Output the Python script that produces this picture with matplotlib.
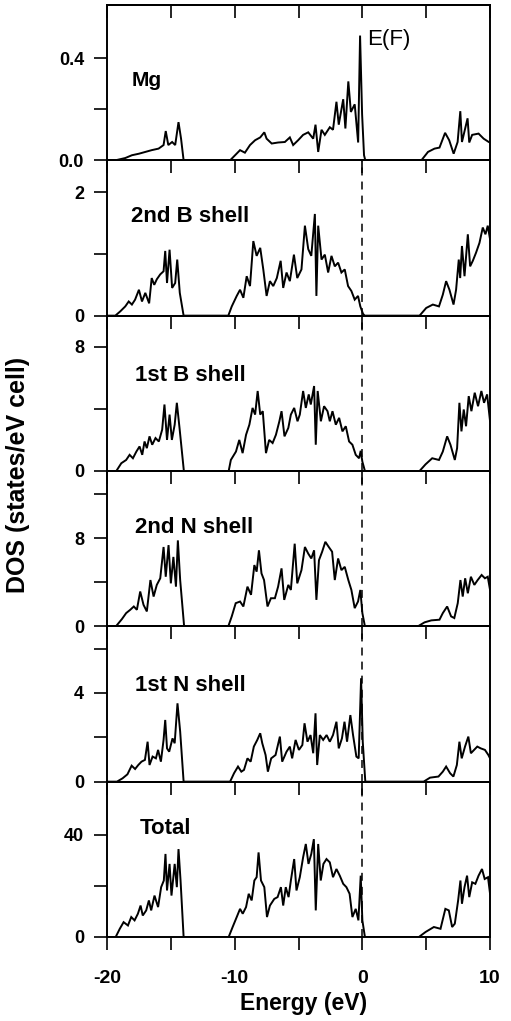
import matplotlib
matplotlib.use("Agg")
import matplotlib.pyplot as plt
from matplotlib.ticker import FormatStrFormatter

plt.rcParams['font.family'] = ['Liberation Sans', 'DejaVu Sans']
plt.rcParams['axes.unicode_minus'] = False

# (energy eV, DOS), one list per panel
mg = [(-20, 0), (-19.35, 0), (-18.57, 0.009), (-18.05, 0.02), (-17.5, 0.026), (-17.0, 0.033), (-16.5, 0.04),
      (-15.96, 0.046), (-15.57, 0.06), (-15.4, 0.115), (-15.2, 0.06), (-14.9, 0.072), (-14.66, 0.06), (-14.4, 0.15),
      (-14.2, 0.085), (-14.0, 0),
      (-10.36, 0), (-9.97, 0.02), (-9.58, 0.04), (-9.2, 0.03), (-8.8, 0.06), (-8.4, 0.079), (-8.0, 0.09), (-7.68, 0.11),
      (-7.5, 0.085), (-7.1, 0.066), (-6.6, 0.07), (-6.07, 0.072), (-5.68, 0.09), (-5.42, 0.06), (-5.03, 0.079),
      (-4.64, 0.1), (-4.24, 0.11), (-3.85, 0.085), (-3.67, 0.14), (-3.46, 0.033), (-3.2, 0.12), (-2.94, 0.1),
      (-2.55, 0.13), (-2.3, 0.12), (-2.03, 0.23), (-1.85, 0.14), (-1.5, 0.24), (-1.33, 0.125), (-1.1, 0.31),
      (-0.9, 0.19), (-0.6, 0.22), (-0.33, 0.07), (-0.18, 0.49), (-0.02, 0.18), (0.13, 0.02), (0.23, 0),
      (4.62, 0), (5.14, 0.033), (5.65, 0.046), (6.04, 0.05), (6.48, 0.108), (6.8, 0.079), (7.15, 0.026), (7.46, 0.072),
      (7.67, 0.193), (7.8, 0.072), (7.98, 0.11), (8.24, 0.165), (8.37, 0.07), (8.6, 0.1), (9.1, 0.105), (9.5, 0.085),
      (9.9, 0.072), (10.0, 0.07)]

b2 = [(-20, 0), (-19.35, 0), (-18.96, 0.07), (-18.57, 0.15), (-18.3, 0.23), (-18.05, 0.18), (-17.8, 0.26),
      (-17.5, 0.42), (-17.26, 0.23), (-17.0, 0.37), (-16.7, 0.2), (-16.5, 0.61), (-16.3, 0.5), (-16.1, 0.59),
      (-15.83, 0.67), (-15.57, 0.72), (-15.44, 1.05), (-15.3, 0.53), (-15.1, 1.07), (-14.9, 0.45), (-14.66, 0.53),
      (-14.5, 0.91), (-14.3, 0.37), (-14.0, 0),
      (-10.5, 0), (-10.23, 0.15), (-9.84, 0.32), (-9.58, 0.42), (-9.32, 0.29), (-9.06, 0.64), (-8.8, 0.48),
      (-8.54, 1.21), (-8.28, 0.97), (-8.0, 1.1), (-7.76, 0.75), (-7.5, 0.32), (-7.24, 0.56), (-6.98, 0.48),
      (-6.7, 0.61), (-6.4, 0.89), (-6.2, 0.45), (-5.94, 0.7), (-5.68, 0.56), (-5.36, 0.99), (-5.1, 0.61),
      (-4.77, 0.75), (-4.5, 1.46), (-4.24, 1.08), (-4.0, 0.97), (-3.72, 1.65), (-3.6, 0.32), (-3.46, 1.46),
      (-3.2, 0.91), (-2.94, 0.99), (-2.68, 0.7), (-2.42, 0.97), (-2.16, 0.8), (-1.9, 0.86), (-1.64, 0.7),
      (-1.38, 0.75), (-1.12, 0.48), (-0.86, 0.4), (-0.6, 0.26), (-0.34, 0.32), (-0.16, 0.15), (0.05, 0.03), (0.18, 0),
      (4.48, 0), (5.0, 0.125), (5.52, 0.18), (6.0, 0.15), (6.3, 0.34), (6.56, 0.56), (6.82, 0.42), (7.14, 0.18),
      (7.34, 0.42), (7.55, 0.91), (7.66, 0.61), (7.8, 1.13), (8.0, 0.64), (8.26, 1.32), (8.44, 0.8), (8.65, 0.89),
      (8.9, 1.02), (9.17, 1.18), (9.43, 1.43), (9.64, 1.32), (9.82, 1.46), (10.0, 1.24)]

b1 = [(-20, 0), (-19.27, 0), (-18.88, 0.5), (-18.5, 0.71), (-18.23, 1.04), (-17.97, 0.82), (-17.7, 1.25),
      (-17.45, 1.58), (-17.24, 1.04), (-17.06, 1.9), (-16.88, 1.47), (-16.67, 2.23), (-16.46, 1.69), (-16.2, 2.12),
      (-15.94, 1.9), (-15.68, 2.66), (-15.5, 4.28), (-15.3, 2.0), (-15.1, 3.63), (-14.92, 2.0), (-14.7, 2.98),
      (-14.53, 4.39), (-14.32, 2.77), (-13.98, 0),
      (-10.47, 0), (-10.3, 0.71), (-9.9, 1.25), (-9.64, 2.0), (-9.38, 1.15), (-9.11, 2.33), (-8.85, 2.98),
      (-8.6, 4.06), (-8.4, 3.63), (-8.2, 5.15), (-8.0, 3.63), (-7.8, 3.85), (-7.55, 1.15), (-7.3, 2.0), (-7.03, 1.8),
      (-6.77, 2.33), (-6.5, 3.2), (-6.33, 3.85), (-6.1, 2.23), (-5.8, 2.77), (-5.6, 3.63), (-5.34, 4.06),
      (-5.08, 3.2), (-4.9, 3.63), (-4.64, 5.15), (-4.43, 4.06), (-4.2, 4.93), (-4.04, 4.28), (-3.78, 5.47),
      (-3.65, 1.69), (-3.5, 5.15), (-3.25, 3.2), (-3.0, 4.17), (-2.73, 3.85), (-2.55, 3.2), (-2.34, 3.85),
      (-2.08, 2.98), (-1.82, 3.42), (-1.56, 2.55), (-1.3, 2.88), (-1.04, 1.9), (-0.78, 1.69), (-0.52, 1.04),
      (-0.26, 0.82), (-0.13, 1.3), (0.0, 0.6), (0.2, 0),
      (4.48, 0), (4.95, 0.43), (5.47, 0.82), (6.0, 0.71), (6.3, 1.25), (6.64, 2.23), (6.9, 1.69), (7.24, 0.71),
      (7.42, 1.47), (7.6, 4.39), (7.76, 2.55), (7.94, 3.96), (8.12, 2.88), (8.33, 4.82), (8.54, 3.85), (8.8, 5.04),
      (9.06, 4.17), (9.32, 5.15), (9.53, 4.39), (9.77, 4.93), (10.0, 3.2)]

n2 = [(-20, 0), (-19.3, 0), (-18.83, 0.66), (-18.5, 1.2), (-18.18, 1.5), (-17.9, 1.8), (-17.66, 1.5), (-17.4, 3.16),
      (-17.14, 1.95), (-16.88, 1.35), (-16.6, 4.2), (-16.35, 2.7), (-16.1, 3.76), (-15.83, 4.36), (-15.57, 7.2),
      (-15.4, 4.5), (-15.18, 7.37), (-15.0, 3.9), (-14.8, 6.3), (-14.6, 3.6), (-14.45, 7.8), (-14.27, 4.2),
      (-13.96, 0),
      (-10.5, 0), (-10.23, 0.9), (-9.92, 2.1), (-9.58, 2.25), (-9.32, 1.8), (-9.0, 3.6), (-8.72, 2.86), (-8.46, 5.56),
      (-8.28, 4.96), (-8.1, 6.9), (-7.9, 4.8), (-7.7, 4.2), (-7.43, 1.8), (-7.16, 2.55), (-6.85, 2.55), (-6.6, 3.6),
      (-6.33, 5.26), (-6.12, 2.4), (-5.8, 3.76), (-5.6, 3.3), (-5.3, 7.5), (-5.1, 3.9), (-4.77, 5.1), (-4.5, 7.2),
      (-4.24, 6.6), (-4.0, 6.16), (-3.78, 6.9), (-3.6, 2.4), (-3.4, 6.0), (-3.15, 6.77), (-2.9, 7.67), (-2.63, 7.2),
      (-2.37, 6.77), (-2.16, 4.2), (-1.9, 6.16), (-1.64, 5.1), (-1.38, 5.4), (-1.1, 4.2), (-0.86, 3.3),
      (-0.6, 1.65), (-0.34, 2.25), (-0.16, 3.3), (0.0, 1.2), (0.2, 0),
      (4.35, 0), (4.87, 0.36), (5.4, 0.54), (6.04, 0.6), (6.3, 1.2), (6.64, 1.8), (6.95, 0.9), (7.2, 0.75),
      (7.47, 2.1), (7.68, 4.2), (7.86, 2.7), (8.05, 4.36), (8.26, 3.0), (8.5, 4.5), (8.77, 3.76), (9.03, 4.2),
      (9.34, 4.66), (9.6, 4.36), (9.82, 4.5), (10.0, 3.3)]

n1 = [(-20, 0), (-19.22, 0), (-18.78, 0.15), (-18.4, 0.33), (-18.07, 0.72), (-17.8, 0.57), (-17.55, 0.75),
      (-17.3, 0.9), (-17.03, 0.98), (-16.82, 1.8), (-16.67, 0.75), (-16.43, 1.13), (-16.17, 1.05), (-16.0, 1.43),
      (-15.78, 0.9), (-15.57, 1.88), (-15.44, 2.78), (-15.3, 1.5), (-15.13, 1.35), (-14.87, 1.95), (-14.7, 1.73),
      (-14.48, 3.53), (-14.27, 2.26), (-14.0, 0),
      (-10.36, 0), (-10.05, 0.38), (-9.74, 0.68), (-9.48, 0.45), (-9.27, 0.53), (-9.0, 1.05), (-8.75, 0.9),
      (-8.5, 1.58), (-8.23, 1.88), (-8.0, 2.18), (-7.84, 1.73), (-7.58, 1.2), (-7.4, 0.45), (-7.14, 1.05),
      (-6.8, 1.2), (-6.46, 2.03), (-6.28, 0.9), (-5.94, 1.35), (-5.68, 1.58), (-5.5, 1.05), (-5.23, 1.88),
      (-4.97, 1.43), (-4.7, 1.65), (-4.53, 2.63), (-4.3, 1.8), (-4.06, 2.1), (-3.85, 1.28), (-3.67, 3.08),
      (-3.54, 0.75), (-3.33, 2.1), (-3.07, 1.88), (-2.8, 2.1), (-2.55, 1.8), (-2.3, 2.1), (-2.03, 2.7), (-1.85, 1.5),
      (-1.6, 1.95), (-1.4, 2.7), (-1.2, 1.8), (-0.94, 3.0), (-0.73, 2.1), (-0.47, 1.13), (-0.29, 1.05),
      (-0.1, 4.66), (0.03, 1.8), (0.23, 0),
      (4.8, 0), (5.3, 0.18), (5.96, 0.23), (6.3, 0.45), (6.56, 0.68), (6.87, 0.38), (7.13, 0.23), (7.4, 0.75),
      (7.6, 1.8), (7.78, 1.05), (8.04, 1.58), (8.3, 2.03), (8.5, 1.28), (8.75, 1.43), (9.0, 1.58), (9.27, 1.5),
      (9.6, 1.43), (9.87, 1.2), (10.0, 1.05)]

total = [(-20, 0), (-19.32, 0), (-19.0, 3.2), (-18.7, 5.8), (-18.36, 4.5), (-18.1, 7.8), (-17.84, 6.5),
         (-17.58, 9.1), (-17.37, 12.3), (-17.2, 8.4), (-16.93, 10.4), (-16.72, 14.3), (-16.54, 10.4), (-16.28, 16.2),
         (-16.0, 11.7), (-15.76, 19.5), (-15.55, 22.1), (-15.42, 32.5), (-15.3, 18.2), (-15.1, 28.6),
         (-14.95, 16.2), (-14.7, 28.6), (-14.53, 19.5), (-14.4, 34.4), (-14.24, 22.1), (-14.0, 0),
         (-10.47, 0), (-10.16, 3.9), (-9.84, 7.8), (-9.58, 11.0), (-9.37, 9.1), (-9.11, 11.7), (-8.9, 16.9),
         (-8.67, 14.3), (-8.46, 22.1), (-8.28, 23.4), (-8.13, 33.1), (-7.94, 22.1), (-7.68, 19.5), (-7.47, 7.8),
         (-7.24, 12.3), (-6.9, 14.9), (-6.64, 15.6), (-6.38, 19.5), (-6.2, 12.3), (-6.0, 19.5), (-5.78, 15.6),
         (-5.6, 22.1), (-5.34, 30.5), (-5.16, 18.2), (-4.9, 23.4), (-4.64, 31.2), (-4.43, 36.4), (-4.22, 28.6),
         (-4.0, 32.5), (-3.8, 38.3), (-3.65, 10.4), (-3.46, 36.4), (-3.26, 22.1), (-3.05, 28.6), (-2.81, 30.5),
         (-2.55, 29.2), (-2.3, 23.4), (-2.03, 26.6), (-1.77, 24.0), (-1.5, 20.8), (-1.25, 19.5), (-1.0, 16.9),
         (-0.78, 7.8), (-0.52, 11.0), (-0.31, 6.5), (-0.13, 24.0), (0.0, 6.5), (0.2, 0),
         (4.43, 0), (4.95, 1.95), (5.6, 3.9), (6.12, 3.2), (6.5, 11.0), (6.77, 10.4), (7.03, 3.9), (7.24, 5.2),
         (7.5, 14.3), (7.68, 22.1), (7.8, 13.0), (8.0, 19.5), (8.2, 24.0), (8.37, 15.6), (8.6, 21.4), (8.85, 20.8),
         (9.1, 24.0), (9.37, 26.6), (9.58, 22.7), (9.84, 23.4), (10.0, 16.9)]

panels = [mg, b2, b1, n2, n1, total]
names = ['Mg', '2nd B shell', '1st B shell', '2nd N shell', '1st N shell', 'Total']
ymax = [0.61, 2.52, 10.0, 14.1, 7.0, 60.8]
major_y = [[0, 0.4], [0, 2], [0, 8], [0, 8], [0, 4], [0, 40]]
minor_y = [[0.2], [1], [4], [4, 12], [2, 6], [20]]
name_pos = [(-18.05, 0.29), (-18.1, 1.52), (-17.8, 5.8), (-17.8, 8.5), (-17.8, 4.1), (-17.4, 40.5)]
x_major = [-20, -10, 0, 10]
x_minor = [-15, -5, 5]

fig, axes = plt.subplots(6, 1, figsize=(5.11, 10.21), dpi=100, sharex=True)
fig.subplots_adjust(left=0.2094, right=0.959, top=0.9951, bottom=0.0823, hspace=0)

for i, ax in enumerate(axes):
    ax.patch.set_visible(False)
    e = [p[0] for p in panels[i]]
    d = [p[1] for p in panels[i]]
    ax.plot(e, d, color='black', lw=1.4, solid_joinstyle='miter')
    if i > 0:
        ax.axvline(0, color='black', lw=1.1, dashes=(5.2, 4))
    ax.set_xlim(-20, 10)
    ax.set_ylim(0, ymax[i])
    ax.set_yticks(major_y[i])
    ax.set_yticks(minor_y[i], minor=True)
    ax.set_xticks(x_major)
    ax.set_xticks(x_minor, minor=True)
    if i == 0:
        ax.yaxis.set_major_formatter(FormatStrFormatter('%.1f'))
    for s in ax.spines.values():
        s.set_linewidth(1.4)
    ax.tick_params(axis='y', which='both', direction='out', length=9.5, width=1.2, pad=7,
                   labelsize=13)
    ax.tick_params(axis='x', which='both', direction='out', top=False, bottom=(i == 5), length=9.5,
                   width=1.2, labelbottom=False)
    # ticks hang down from the top line of every panel
    top = ax.secondary_xaxis('top')
    top.set_xticks(x_major)
    top.set_xticks(x_minor, minor=True)
    top.tick_params(axis='x', which='both', direction='in', length=9.5, width=1.2, labeltop=False)
    top.spines['top'].set_linewidth(1.4)
    for lab in ax.get_yticklabels():
        lab.set_fontweight('bold')
    ax.text(name_pos[i][0], name_pos[i][1], names[i], fontsize=15 if i == 0 else 16,
            fontweight='bold', ha='left', va='baseline')

axes[-1].tick_params(axis='x', which='both', labelbottom=True, labelsize=14, pad=14)
for lab in axes[-1].get_xticklabels():
    lab.set_fontweight('bold')

axes[0].text(0.4, 0.454, 'E(F)', fontsize=16, ha='left', va='baseline')

fig.text(0.595, 0.0108, 'Energy (eV)', fontsize=16.5, fontweight='bold', ha='center', va='baseline')
fig.text(0.035, 0.535, 'DOS (states/eV cell)', fontsize=18, fontweight='bold', rotation=90,
         ha='center', va='center')

fig.savefig('out.png', dpi=100)
